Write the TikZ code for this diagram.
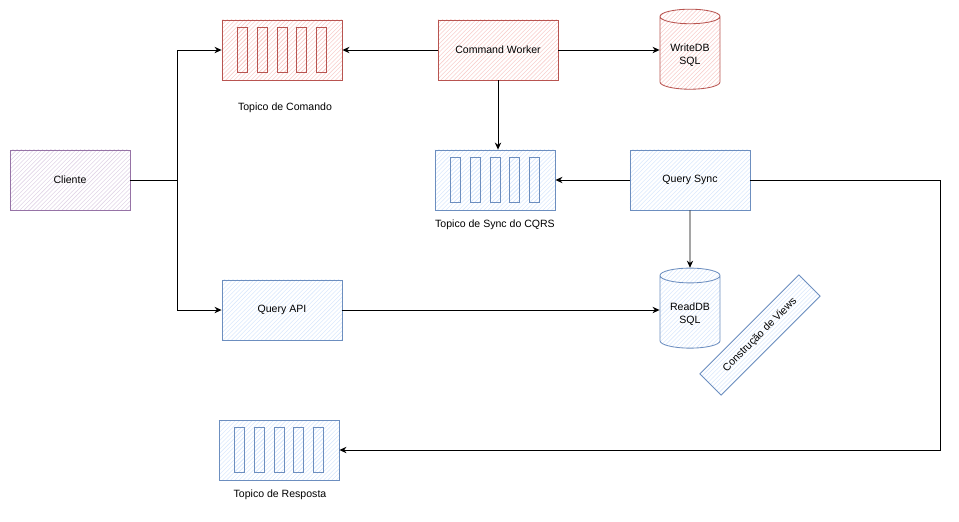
\documentclass[tikz,border=0pt]{standalone}
\usepackage{fontspec}
\setmainfont{Liberation Sans}
\usetikzlibrary{arrows.meta}
\usetikzlibrary{patterns}
\usetikzlibrary{shapes.geometric}
\definecolor{redline}{HTML}{B85450}
\definecolor{redfill}{HTML}{F8CECC}
\definecolor{blueline}{HTML}{6C8EBF}
\definecolor{bluefill}{HTML}{DAE8FC}
\definecolor{purpline}{HTML}{9673A6}
\definecolor{purpfill}{HTML}{E1D5E7}
\tikzstyle{every node}=[font=\fontsize{7.5}{9}\selectfont]
\tikzstyle{box}=[rectangle, draw, line width=.6pt, inner sep=0pt,
                 minimum width=3cm, minimum height=1.5cm, pattern=north east lines]
\tikzstyle{redbox}=[box, draw=redline, pattern color=redfill]
\tikzstyle{bluebox}=[box, draw=blueline, pattern color=bluefill]
\tikzstyle{purpbox}=[box, draw=purpline, pattern color=purpfill]
\tikzstyle{bar}=[rectangle, draw, line width=.5pt, inner sep=0pt,
                 minimum width=.25cm, minimum height=1.125cm, pattern=north east lines]
\tikzstyle{db}=[cylinder, shape border rotate=90, aspect=.3, draw, line width=.6pt,
                minimum width=1.5cm, minimum height=2cm, align=center, pattern=north east lines]
\tikzstyle{caption}=[inner sep=1pt]
\tikzstyle{link}=[->, line width=.6pt]

\begin{document}
\begin{tikzpicture}[x=.025cm, y=-.025cm, >={Stealth[length=5pt,width=4.5pt]}]
      \useasboundingbox (0,0) rectangle (959,521);
      % command side
      \node[redbox] (topcmd) at (282,50) {};
      \foreach \k in {-2,...,2}
	\node[bar, draw=redline, pattern color=redfill] (cmdbar\k) at ([xshift=\k*.49cm]topcmd.center) {};
      \node[caption] (topcmdlbl) at (285,108) {Topico de Comando};
      \node[redbox] (worker) at (498,50) {Command Worker};
      \node[db, draw=redline, pattern color=redfill] (writedb) at (690,55) {WriteDB\\SQL};
      % sync side
      \node[bluebox] (topsync) at (495,180) {};
      \foreach \k in {-2,...,2}
	\node[bar, draw=blueline, pattern color=bluefill] (syncbar\k) at ([xshift=\k*.49cm]topsync.center) {};
      \node[caption] (topsynclbl) at (495,225) {Topico de Sync do CQRS};
      \node[bluebox] (qsync) at (690,180) {Query Sync};
      \node[db, draw=blueline, pattern color=bluefill] (readdb) at (690,314) {ReadDB\\SQL};
      \node[bluebox, minimum width=3.5cm, minimum height=.75cm, rotate=45]
	(views) at (760,335) {Construção de Views};
      % client and query
      \node[purpbox] (cliente) at (70,180) {Cliente};
      \node[bluebox] (qapi) at (282,310) {Query API};
      \node[bluebox] (topresp) at (279,450) {};
      \foreach \k in {-2,...,2}
	\node[bar, draw=blueline, pattern color=bluefill] (respbar\k) at ([xshift=\k*.49cm]topresp.center) {};
      \node[caption] (topresplbl) at (280,495) {Topico de Resposta};
      % connectors
      \coordinate (split) at (177,180);
      \coordinate (turn) at (940,180);
      \draw[line width=.6pt] (cliente) -- (split);
      \draw[link] (split) |- (topcmd);
      \draw[link] (split) |- (qapi);
      \draw[link] (worker) -- (topcmd);
      \draw[link] (worker) -- (worker -| writedb.west);
      \draw[link] (worker.south) -- (worker.south |- topsync.north);
      \draw[link] (qsync) -- (topsync);
      \draw[link] (qsync) -- (readdb);
      \draw[link] (qapi) -- (qapi -| readdb.west);
      \draw[link] (qsync.east) -- (turn) |- (topresp.east);
    \end{tikzpicture}
\end{document}
